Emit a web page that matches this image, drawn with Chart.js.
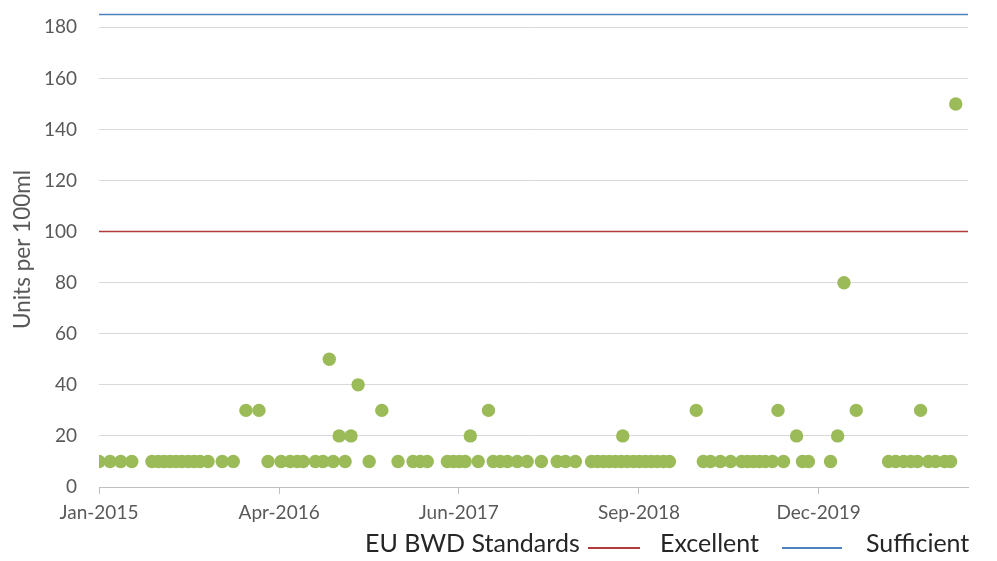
<!DOCTYPE html>
<html>
<head>
<meta charset="utf-8">
<script src="https://cdn.jsdelivr.net/npm/chart.js@4/dist/chart.umd.min.js"></script>
<style>
  html, body { margin: 0; padding: 0; background: #fff; }
  #wrap { position: relative; width: 997px; height: 561px; overflow: hidden; }
  #c { position: absolute; left: 0; top: 0; }
  .lg { position: absolute; font-family: Lato, "Open Sans", sans-serif; font-size: 25px; color: #262626; white-space: nowrap; line-height: 1; }
  .ln { position: absolute; height: 2px; }
</style>
</head>
<body>
<div id="wrap">
  <canvas id="c" width="997" height="561"></canvas>
  <div class="lg" id="lgTitle" style="left:365px; top:530px;"></div>
  <div class="ln" style="left:588px; top:547px; width:52px; background:#b23a3a;"></div>
  <div class="lg" id="lgA" style="left:660px; top:530px;"></div>
  <div class="ln" style="left:782px; top:547px; width:60px; background:#4f81bd;"></div>
  <div class="lg" id="lgB" style="left:866px; top:530px;"></div>
</div>
<script>
// ---- data ----
const sampleDates = [
  '2015-01-01','2015-01-29','2015-02-25','2015-03-25','2015-05-15','2015-05-31','2015-06-15','2015-06-30',
  '2015-07-15','2015-07-30','2015-08-15','2015-08-30','2015-09-14','2015-10-04','2015-11-09','2015-12-07',
  '2016-01-08','2016-02-10','2016-03-04','2016-04-06','2016-04-29','2016-05-17','2016-06-01','2016-07-02',
  '2016-07-21','2016-08-06','2016-08-16','2016-08-31','2016-09-15','2016-09-30','2016-10-18','2016-11-15',
  '2016-12-17','2017-01-27','2017-03-06','2017-03-24','2017-04-11','2017-06-01','2017-06-16','2017-07-01',
  '2017-07-16','2017-07-29','2017-08-18','2017-09-13','2017-09-25','2017-10-13','2017-10-31','2017-11-25',
  '2017-12-20','2018-01-25','2018-03-06','2018-03-27','2018-04-21','2018-06-01','2018-06-16','2018-07-01',
  '2018-07-16','2018-07-31','2018-08-15','2018-08-19','2018-08-30','2018-09-15','2018-09-30','2018-10-15',
  '2018-10-30','2018-11-14','2018-11-30','2018-12-15','2019-02-21','2019-03-11','2019-03-29','2019-04-23',
  '2019-05-19','2019-06-16','2019-07-01','2019-07-16','2019-07-31','2019-08-15','2019-09-02','2019-09-16',
  '2019-09-30','2019-11-02','2019-11-17','2019-12-02','2020-01-27','2020-02-14','2020-03-01','2020-04-01',
  '2020-06-22','2020-07-10','2020-07-30','2020-08-17','2020-09-03','2020-09-11','2020-10-01','2020-10-19',
  '2020-11-11','2020-11-26','2020-12-09'
];
const sampleValues = [
  10,10,10,10,10,10,10,10,
  10,10,10,10,10,10,10,10,
  30,30,10,10,10,10,10,10,
  10,50,10,20,10,20,40,10,
  30,10,10,10,10,10,10,10,
  10,20,10,30,10,10,10,10,
  10,10,10,10,10,10,10,10,
  10,10,10,20,10,10,10,10,
  10,10,10,10,30,10,10,10,
  10,10,10,10,10,10,10,30,
  10,20,10,10,10,20,80,30,
  10,10,10,10,10,30,10,10,
  10,10,150
];
const standardNames = ['Excellent', 'Sufficient'];
const standardValues = [100, 185];
const legendTitle = 'EU BWD Standards';
const xTickDates = ['2015-01-01','2016-04-01','2017-06-30','2018-09-29','2019-12-28'];
const xTickLabels = ['Jan-2015','Apr-2016','Jun-2017','Sep-2018','Dec-2019'];
const yTickValues = [0,20,40,60,80,100,120,140,160,180];
const yTitle = 'Units per 100ml';
const xStartDate = '2015-01-01';
const xEndDate = '2021-01-09';
const yMax = 186;

// ---- helpers ----
const DAY = 86400000;
const t0 = Date.parse(xStartDate);
const toDay = d => (Date.parse(d) - t0) / DAY;
const xMin = toDay(xStartDate), xMax = toDay(xEndDate);

document.getElementById('lgTitle').textContent = legendTitle;
document.getElementById('lgA').textContent = standardNames[0];
document.getElementById('lgB').textContent = standardNames[1];

const points = sampleDates.map((d, i) => ({ x: toDay(d), y: sampleValues[i] }));
const stdColors = ['#b23a3a', '#4f81bd'];
const stdSets = standardValues.map((v, i) => ({
  type: 'line',
  label: standardNames[i],
  data: [{ x: xMin, y: v }, { x: xMax, y: v }],
  borderColor: stdColors[i],
  borderWidth: 1.5,
  pointRadius: 0,
  fill: false,
  order: 2
}));

const tickFont = { family: 'Lato, "Open Sans", sans-serif', size: 19 };

new Chart(document.getElementById('c'), {
  type: 'scatter',
  data: {
    datasets: [
      {
        label: 'Samples',
        data: points,
        backgroundColor: '#9bbb59',
        borderWidth: 0,
        pointRadius: 6.7,
        pointHoverRadius: 6.7,
        order: 1
      },
      ...stdSets
    ]
  },
  options: {
    responsive: false,
    animation: false,
    layout: { padding: { top: 12, right: 29, left: 0, bottom: 0 } },
    plugins: { legend: { display: false }, tooltip: { enabled: false } },
    scales: {
      x: {
        type: 'linear',
        min: xMin,
        max: xMax,
        afterBuildTicks: s => { s.ticks = xTickDates.map(d => ({ value: toDay(d) })); },
        afterFit: s => { s.height = 74; s.paddingLeft = 0; s.paddingRight = 0; },
        ticks: {
          autoSkip: false,
          maxRotation: 0,
          padding: 7,
          color: '#595959',
          font: tickFont,
          callback: (v) => {
            const i = xTickDates.findIndex(d => toDay(d) === v);
            return i >= 0 ? xTickLabels[i] : '';
          }
        },
        grid: { drawOnChartArea: false, drawTicks: true, tickLength: 7, color: '#bfbfbf', lineWidth: 1 },
        border: { display: true, color: '#bfbfbf', width: 1 }
      },
      y: {
        min: 0,
        max: yMax,
        afterBuildTicks: s => { s.ticks = yTickValues.map(v => ({ value: v })); },
        afterFit: s => { s.width = 99; s.paddingTop = 0; s.paddingBottom = 0; },
        ticks: { padding: 22, color: '#595959', font: tickFont },
        grid: { color: '#d9d9d9', lineWidth: 1, drawTicks: false },
        border: { display: false },
        title: {
          display: true,
          text: yTitle,
          color: '#595959',
          font: { family: 'Lato, "Open Sans", sans-serif', size: 22.5, lineHeight: 1.2 },
          padding: { top: 9, bottom: 0 }
        }
      }
    }
  }
});
</script>
</body>
</html>
